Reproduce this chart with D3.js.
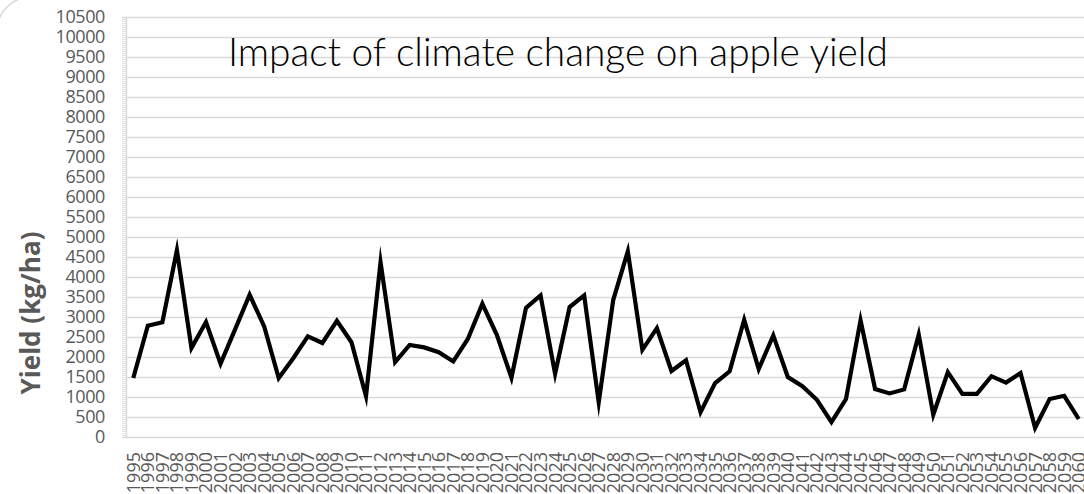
<!DOCTYPE html>
<html>
<head>
<meta charset="utf-8">
<script src="https://cdn.jsdelivr.net/npm/d3@7"></script>
<style>
  html, body { margin: 0; padding: 0; background: #ffffff; overflow: hidden; }
  svg { display: block; }
</style>
</head>
<body>
<svg id="chart" width="1084" height="494"></svg>
<script>
// Annual apple yield, 1995–2060 (kg/ha)
const years = d3.range(1995, 2061).map(String);
const yieldValues = [
  1475, 2780, 2870, 4670, 2225, 2875, 1833, 2690, 3555, 2765,
  1475, 1970, 2515, 2350, 2905, 2370, 1020, 4370, 1870, 2300,
  2240, 2120, 1890, 2450, 3330, 2550, 1480, 3230, 3540, 1580,
  3250, 3540, 870, 3430, 4640, 2180, 2720, 1650, 1920, 620,
  1350, 1640, 2930, 1700, 2540, 1500, 1270, 930, 370, 950,
  2920, 1200, 1090, 1190, 2560, 560, 1620, 1080, 1080, 1520,
  1360, 1600, 230, 950, 1030, 450
];
const yTicks = d3.range(0, 10501, 500);
const titleText = "Impact of climate change on apple yield";
const yAxisTitle = "Yield (kg/ha)";

const svg = d3.select("#chart");
const W = 1084, H = 494;
const plot = { left: 126, right: 1086, top: 17, bottom: 437 };

const x = d3.scaleBand().domain(years).range([plot.left, plot.right]).paddingInner(0).paddingOuter(0);
const y = d3.scaleLinear().domain([0, 10500]).range([plot.bottom, plot.top]);

const labelFont = "'Open Sans', 'DejaVu Sans', sans-serif";
const textGrey = "#595959";
const gridGrey = "#d9d9d9";

// outer chart frame (rounded corner)
svg.append("rect")
  .attr("x", -3).attr("y", -3)
  .attr("width", W + 40).attr("height", H + 40)
  .attr("rx", 34).attr("ry", 34)
  .attr("fill", "none").attr("stroke", "#d9d9d9").attr("stroke-width", 1.5);

// horizontal gridlines
svg.append("g")
  .attr("transform", `translate(${plot.left},0)`)
  .call(d3.axisRight(y).tickValues(yTicks.filter(v => v > 0)).tickSize(plot.right - plot.left).tickFormat(""))
  .call(g => g.select(".domain").remove())
  .call(g => g.selectAll(".tick line").attr("stroke", gridGrey).attr("stroke-width", 1.4));

// minor ticks on the value axis
svg.append("g")
  .attr("transform", `translate(${plot.left},0)`)
  .call(d3.axisLeft(y).tickValues(d3.range(0, 10501, 50)).tickSize(4).tickFormat(""))
  .call(g => g.select(".domain").attr("stroke", gridGrey).attr("stroke-width", 1.4))
  .call(g => g.selectAll(".tick line").attr("stroke", gridGrey).attr("stroke-width", 0.8));

// value axis labels
svg.append("g")
  .attr("transform", `translate(${plot.left},0)`)
  .call(d3.axisLeft(y).tickValues(yTicks).tickSize(0).tickPadding(21).tickFormat(d3.format("d")))
  .call(g => g.select(".domain").remove())
  .call(g => g.selectAll("text")
    .attr("fill", textGrey)
    .style("font-family", labelFont)
    .style("font-size", "18px")
    .style("letter-spacing", "-0.4px"));

// category axis
const xAxis = svg.append("g")
  .attr("transform", `translate(0,${plot.bottom})`)
  .call(d3.axisBottom(x).tickSize(0).tickPadding(0));
xAxis.select(".domain").attr("stroke", gridGrey).attr("stroke-width", 1.6);
xAxis.selectAll("text")
  .attr("fill", textGrey)
  .style("font-family", labelFont)
  .style("font-size", "18px")
  .attr("text-anchor", "end")
  .attr("dy", "0.36em")
  .attr("transform", "translate(0,15) rotate(-90)")
  .attr("x", 0).attr("y", 0);

// yield line
const line = d3.line()
  .x((d, i) => x(years[i]) + x.bandwidth() / 2)
  .y(d => y(d));
svg.append("path")
  .datum(yieldValues)
  .attr("d", line)
  .attr("fill", "none")
  .attr("stroke", "#000000")
  .attr("stroke-width", 4.2)
  .attr("stroke-linejoin", "miter")
  .attr("stroke-miterlimit", 10);

// chart title
const title = svg.append("text")
  .attr("x", 228).attr("y", 66)
  .attr("fill", "#000000")
  .style("font-family", "Lato, 'Open Sans', sans-serif")
  .style("font-weight", 300)
  .style("font-size", "34px")
  .text(titleText);
const tw = title.node().getComputedTextLength();
title.style("font-size", (34 * 660 / tw).toFixed(2) + "px");

// value axis title
const yt = svg.append("text")
  .attr("transform", "translate(40,313) rotate(-90)")
  .attr("text-anchor", "middle")
  .attr("fill", textGrey)
  .style("font-family", labelFont)
  .style("font-weight", 700)
  .style("font-size", "20px")
  .text(yAxisTitle);
const yw = yt.node().getComputedTextLength();
yt.style("font-size", (20 * 163 / yw).toFixed(2) + "px");
</script>
</body>
</html>
